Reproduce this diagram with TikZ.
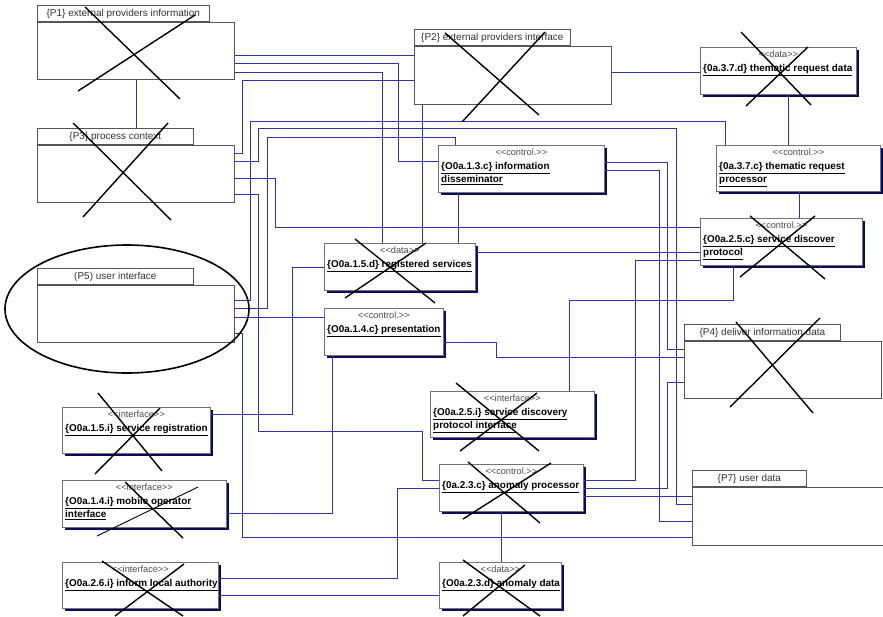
\documentclass[tikz,border=0pt]{standalone}
\usepackage{fontspec}
\newfontfamily\umlfont{Liberation Sans}
\usepackage{tikz}
\usetikzlibrary{shadows}
\definecolor{wirecol}{RGB}{48,48,176}
\definecolor{framecol}{RGB}{85,85,85}
\definecolor{shadecol}{RGB}{10,10,90}

\begin{document}
\begin{tikzpicture}[x=1pt,y=-1pt,
  wire/.style={draw=wirecol,line width=0.7pt},
  pkg/.style={draw=framecol,fill=white,line width=0.7pt,inner sep=0pt,anchor=north west},
  pkgtab/.style={draw=framecol,fill=white,line width=0.7pt,inner sep=0pt,anchor=south west,
    minimum height=16pt,font=\umlfont\fontsize{10}{11}\selectfont,text=black!80},
  cls/.style={draw=black!55,fill=white,line width=0.7pt,inner sep=0pt,anchor=north west,
    drop shadow={shadow xshift=2.5pt,shadow yshift=-2.5pt,fill=shadecol,opacity=1}},
  stereo/.style={anchor=north,inner sep=0pt,yshift=-3.5pt,font=\umlfont\fontsize{9.2}{10}\selectfont,text=black!70},
  clstitle/.style={anchor=north west,inner sep=0pt,xshift=3pt,yshift=-17pt,align=left,
    font=\umlfont\bfseries\fontsize{9.9}{13.5}\selectfont},
  strike/.style={draw=black,line width=1.4pt}]
  \useasboundingbox (0,0) rectangle (883,616);
  \fill[white] (0,0) rectangle (883,616);

  % packages
  \node[pkg,minimum width=197pt,minimum height=57pt] (p1) at (37,22) {};
  \node[pkgtab,minimum width=172pt] (p1tab) at (p1.north west) {\{P1\} external providers information};
  \node[pkg,minimum width=197pt,minimum height=58pt] (p2) at (414,46) {};
  \node[pkgtab,minimum width=156pt] (p2tab) at (p2.north west) {\{P2\} external providers interface};
  \node[pkg,minimum width=197pt,minimum height=57pt] (p3) at (37,145) {};
  \node[pkgtab,minimum width=156pt] (p3tab) at (p3.north west) {\{P3\} process context};
  \node[pkg,minimum width=197pt,minimum height=57pt] (p5) at (37,285) {};
  \node[pkgtab,minimum width=156pt] (p5tab) at (p5.north west) {(P5) user interface};
  \node[pkg,minimum width=197pt,minimum height=57pt] (p4) at (684,341) {};
  \node[pkgtab,minimum width=156pt] (p4tab) at (p4.north west) {\{P4\} deliver information data};
  \node[pkg,minimum width=200pt,minimum height=58pt] (p7) at (692,487) {};
  \node[pkgtab,minimum width=114pt] (p7tab) at (p7.north west) {\{P7\} user data};

  % classes
  \node[cls,minimum width=156pt,minimum height=47pt,
    label={[stereo]north:<<data>>},
    label={[clstitle]north west:\underline{\{0a.3.7.d\} thematic request data}}] (trd) at (700,47) {};
  \node[cls,minimum width=164pt,minimum height=46pt,
    label={[stereo]north:<<control.>>},
    label={[clstitle]north west:\underline{\{0a.3.7.c\} thematic request}\\\underline{processor}}] (trp) at (716,145) {};
  \node[cls,minimum width=166pt,minimum height=47pt,
    label={[stereo]north:<<control.>>},
    label={[clstitle]north west:\underline{\{O0a.1.3.c\} information}\\\underline{disseminator}}] (dis) at (438,145) {};
  \node[cls,minimum width=162pt,minimum height=47pt,
    label={[stereo]north:<<control.>>},
    label={[clstitle]north west:\underline{\{O0a.2.5.c\} service discover}\\\underline{protocol}}] (sdp) at (700,218) {};
  \node[cls,minimum width=151pt,minimum height=47pt,
    label={[stereo]north:<<data>>},
    label={[clstitle]north west:\underline{\{O0a.1.5.d\} registered services}}] (reg) at (324,243) {};
  \node[cls,minimum width=119pt,minimum height=47pt,
    label={[stereo]north:<<control.>>},
    label={[clstitle]north west:\underline{\{O0a.1.4.c\} presentation}}] (pres) at (324,308) {};
  \node[cls,minimum width=164pt,minimum height=46pt,
    label={[stereo]north:<<interface>>},
    label={[clstitle]north west:\underline{\{O0a.2.5.i\} service discovery}\\\underline{protocol interface}}] (sdi) at (430,391) {};
  \node[cls,minimum width=148pt,minimum height=46pt,
    label={[stereo]north:<<interface>>},
    label={[clstitle]north west:\underline{\{O0a.1.5.i\} service registration}}] (sreg) at (62,407) {};
  \node[cls,minimum width=164pt,minimum height=47pt,
    label={[stereo]north:<<interface>>},
    label={[clstitle]north west:\underline{\{O0a.1.4.i\} mobile operator}\\\underline{interface}}] (mob) at (62,480) {};
  \node[cls,minimum width=144pt,minimum height=47pt,
    label={[stereo]north:<<control.>>},
    label={[clstitle]north west:\underline{\{0a.2.3.c\} anomaly processor}}] (anproc) at (439,464) {};
  \node[cls,minimum width=156pt,minimum height=46pt,
    label={[stereo]north:<<interface>>},
    label={[clstitle]north west:\underline{\{O0a.2.6.i\} inform local authority}}] (ila) at (62,562) {};
  \node[cls,minimum width=122pt,minimum height=46pt,
    label={[stereo]north:<<data>>},
    label={[clstitle]north west:\underline{\{O0a.2.3.d\} anomaly data}}] (adata) at (439,562) {};

  % connections
  \draw[wire] (p1.south) -- (p1.south |- p3tab.north);
  \draw[wire] (p1.east |- 0,55) -- (p2.west |- 0,55);
  \draw[wire] (p1.east |- 0,63) -- (398,63) |- (dis.west |- 0,161);
  \draw[wire] (p1.east |- 0,72) -- (382,72) -- (reg.north -| 382,0);
  \draw[wire] (p3.east |- 0,153) -- (242,153) |- (p2.west |- 0,80);
  \draw[wire] (p2.south -| 422,0) -- (reg.north -| 422,0);
  \draw[wire] (dis.south -| 458,0) -- (reg.north -| 458,0);
  \draw[wire] (p5.east |- 0,300) -- (250,300) |- (725,121) -- (trp.north -| 725,0);
  \draw[wire] (p3.east |- 0,161) -- (258,161) |- (676,128) |- (p7.west |- 0,504);
  \draw[wire] (p5.east |- 0,308) -- (267,308) |- (455,137) -- (dis.north -| 455,0);
  \draw[wire] (p3.east |- 0,178) -- (275,178) |- (sdp.west |- 0,227);
  \draw[wire] (p3.east |- 0,194) -- (258,194) |- (422,431) |- (anproc.west |- 0,480);
  \draw[wire] (dis.east |- 0,162) -- (667,162) |- (p4.west |- 0,349);
  \draw[wire] (dis.east |- 0,170) -- (659,170) |- (p7.west |- 0,521);
  \draw[wire] (reg.east |- 0,252) -- (sdp.west |- 0,252);
  \draw[wire] (anproc.east |- 0,480) -- (635,480) |- (sdp.west |- 0,260);
  \draw[wire] (sdi.north -| 569,0) |- (733,300) -- (sdp.south -| 733,0);
  \draw[wire] (pres.east |- 0,342) -- (496,342) |- (p4.west |- 0,357);
  \draw[wire] (anproc.east |- 0,488) -- (667,488) |- (p4.west |- 0,382);
  \draw[wire] (anproc.east |- 0,496) -- (p7.west |- 0,496);
  \draw[wire] (p5.east |- 0,333) -- (242,333) |- (p7.west |- 0,537);
  \draw[wire] (sreg.east |- 0,414) -- (292,414) |- (reg.west |- 0,267);
  \draw[wire] (p5.east |- 0,317) -- (pres.west |- 0,317);
  \draw[wire] (pres.south -| 332,0) |- (mob.east |- 0,513);
  \draw[wire] (ila.east |- 0,578) -- (397,578) |- (anproc.west |- 0,488);
  \draw[wire] (ila.east |- 0,595) -- (adata.west |- 0,595);
  \draw[wire] (anproc.south -| 501,0) -- (adata.north -| 501,0);
  \draw[wire] (p2.east |- 0,72) -- (trd.west |- 0,72);
  \draw[wire] (trd.south -| 788,0) -- (trp.north -| 788,0);
  \draw[wire] (trp.south -| 799,0) -- (sdp.north -| 799,0);

  % crossed out
  \draw[strike] (85,7) -- (180,99) (78,91) -- (195,15);
  \draw[strike] (73,123) -- (171,220) (83,217) -- (168,123);
  \draw[strike] (445,33) -- (539,115) (462,122) -- (545,32);
  \draw[strike] (741,32) -- (811,105) (746,106) -- (808,47);
  \draw[strike] (750,216) -- (825,279) (815,216) -- (740,277);
  \draw[strike] (355,239) -- (435,303) (345,298) -- (426,243);
  \draw[strike] (736,322) -- (813,413) (730,407) -- (820,318);
  \draw[strike] (456,383) -- (539,451) (537,393) -- (460,451);
  \draw[strike] (98,393) -- (162,471) (160,408) -- (95,474);
  \draw[strike] (125,482) -- (183,538);
  \draw[strike,line width=0.9pt] (97,536) -- (198,487);
  \draw[strike] (102,561) -- (183,616) (184,564) -- (115,616);
  \draw[strike] (468,462) -- (540,523) (463,519) -- (551,463);
  \draw[strike] (463,560) -- (540,616) (525,565) -- (463,616);

  % highlight round user interface
  \draw[line width=1.6pt] (127,309) ellipse [x radius=122, y radius=64];
\end{tikzpicture}
\end{document}
